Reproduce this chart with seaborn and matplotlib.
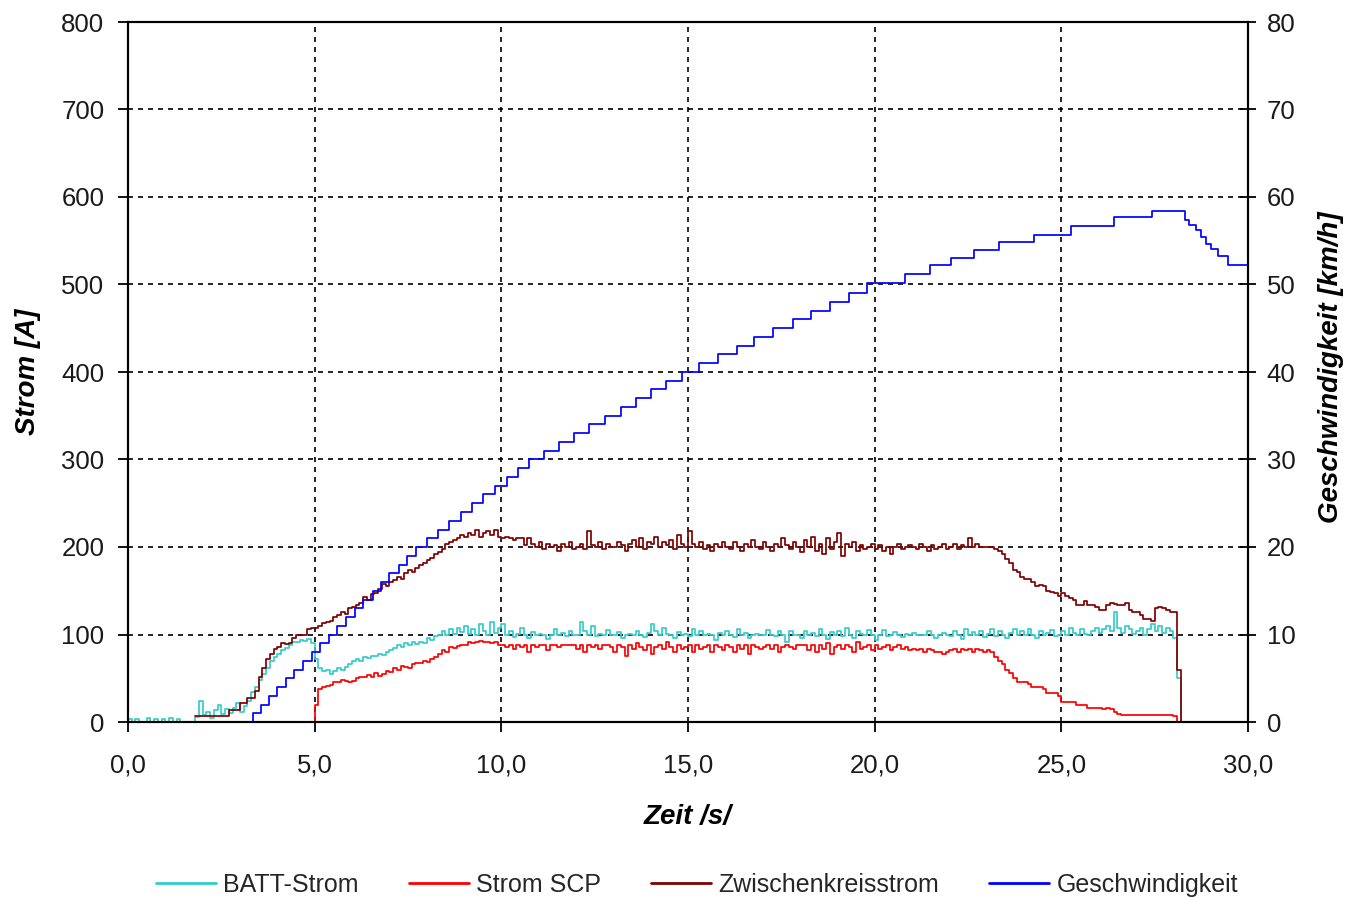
import numpy as np
import pandas as pd
import matplotlib
matplotlib.use("Agg")
import matplotlib.pyplot as plt
import seaborn as sns
from matplotlib.ticker import FuncFormatter, MultipleLocator

# ---------------- data ----------------
DT = 0.1  # sample interval [s]

# BATT-Strom [A], samples start at t = 0.0 s
BATT_T0 = 0.0
batt_strom = [
    3, 0, 4, 0, 0, 5, 0, 3, 0, 4, 0, 5, 0, 3, 0, 0, 0, 0,
    6, 24, 8, 12, 5, 14, 20, 9, 15, 10, 16, 22, 12, 18, 24,
    34, 40, 48, 55, 62, 70, 74, 78, 82, 85, 88, 91, 92, 94, 93, 95, 90,
    72, 62, 58, 60, 55, 58, 62, 60, 63, 66,
    70, 72, 70, 74, 73, 76, 75, 78, 77, 80,
    82, 85, 88, 86, 90, 88, 92, 89, 91, 90,
    96, 94, 98, 100, 104, 99, 106, 101, 108, 103,
    110, 101, 106, 99, 112, 104, 100, 114, 102, 108,
    112, 100, 104, 97, 101, 108, 100, 96, 103, 100,
    101, 99, 95, 100, 106, 100, 102, 98, 104, 100,
    100, 114, 104, 100, 110, 98, 101, 100, 105, 99,
    100, 103, 96, 100, 101, 99, 104, 100, 97, 102,
    112, 104, 100, 108, 101, 100, 96, 103, 100, 101,
    98, 106, 100, 104, 99, 101, 100, 94, 102, 100,
    104, 100, 97, 106, 100, 102, 96, 100, 101, 99,
    100, 105, 100, 98, 104, 100, 92, 104, 100, 100,
    96, 104, 100, 102, 98, 106, 100, 95, 103, 100,
    104, 98, 107, 100, 96, 104, 101, 99, 105, 100,
    94, 100, 105, 98, 100, 103, 100, 97, 101, 100,
    102, 100, 99, 100, 104, 100, 96, 100, 102, 100,
    98, 104, 100, 95, 106, 99, 103, 100, 104, 97,
    101, 106, 98, 104, 100, 96, 102, 106, 100, 104,
    99, 106, 100, 96, 104, 100, 102, 105, 98, 100,
    104, 100, 108, 102, 100, 106, 101, 100, 104, 107,
    102, 106, 110, 104, 126, 108, 102, 110, 106, 101,
    104, 108, 100, 106, 112, 104, 110, 102, 108, 104,
    96, 50, 0,
]

# Strom SCP [A], samples start at t = 4.9 s
SCP_T0 = 4.9
strom_scp = [
    0, 20, 38, 40, 41, 42, 46, 46, 48, 47, 46,
    47, 50, 52, 51, 54, 52, 56, 53, 55, 58,
    57, 62, 60, 64, 63, 62, 66, 68, 67, 70,
    69, 72, 74, 78, 82, 80, 86, 85, 87, 88,
    88, 92, 90, 92, 93, 91, 92, 90, 92, 88,
    88, 86, 88, 84, 88, 86, 88, 80, 88, 86,
    88, 88, 82, 88, 88, 86, 88, 88, 88, 88,
    84, 88, 80, 88, 86, 88, 84, 88, 88, 86,
    80, 88, 86, 76, 88, 84, 90, 86, 82, 88,
    78, 86, 88, 84, 92, 86, 80, 88, 84, 86,
    88, 80, 88, 84, 86, 88, 80, 88, 86, 82,
    88, 86, 80, 88, 84, 88, 78, 88, 86, 84,
    86, 88, 84, 88, 80, 86, 88, 86, 84, 88,
    88, 88, 82, 88, 80, 88, 84, 90, 78, 86,
    88, 84, 88, 86, 80, 92, 84, 86, 88, 82,
    88, 84, 86, 88, 82, 86, 88, 84, 86, 82,
    84, 82, 84, 80, 84, 82, 80, 80, 78, 80,
    82, 84, 80, 84, 82, 84, 80, 84, 82, 80,
    82, 80, 74, 70, 66, 60, 56, 50, 46, 46,
    46, 44, 40, 40, 40, 38, 33, 33, 33, 30,
    23, 23, 23, 23, 19, 20, 19, 16, 16, 16,
    16, 15, 16, 15, 12, 9, 8, 8, 8, 8,
    8, 8, 8, 8, 8, 8, 8, 8, 8, 8,
    7, 0,
]

# Zwischenkreisstrom [A], samples start at t = 1.8 s
ZK_T0 = 1.8
zwischenkreis = [
    7, 7, 7, 7, 7, 7, 7, 7, 7,
    14, 14, 14,
    22, 22, 28, 28, 36, 52, 62, 72, 78, 84,
    86, 90, 89, 90, 96, 99, 100, 99, 106, 108,
    107, 110, 113, 114, 116, 120, 122, 126, 124, 130,
    132, 134, 136, 143, 140, 146, 148, 152, 158, 156,
    160, 162, 166, 164, 170, 174, 172, 176, 180, 182,
    185, 188, 192, 194, 198, 204, 206, 208, 210, 214,
    212, 216, 214, 220, 212, 216, 218, 214, 220, 212,
    210, 212, 210, 208, 210, 210, 202, 210, 204, 200,
    206, 198, 204, 200, 202, 196, 204, 200, 206, 198,
    200, 204, 198, 218, 202, 200, 206, 198, 204, 200,
    200, 206, 202, 196, 204, 208, 200, 210, 198, 206,
    204, 212, 200, 206, 202, 208, 198, 214, 204, 200,
    218, 204, 200, 206, 198, 202, 196, 204, 200, 206,
    200, 198, 206, 200, 196, 204, 200, 208, 200, 198,
    206, 200, 196, 204, 200, 210, 202, 198, 206, 200,
    194, 208, 200, 212, 196, 204, 192, 210, 198, 206,
    216, 190, 204, 200, 206, 196, 202, 198, 200, 204,
    198, 202, 196, 200, 192, 200, 204, 198, 200, 202,
    200, 198, 204, 200, 196, 202, 198, 200, 204, 198,
    200, 204, 198, 202, 200, 210, 200, 204, 200, 200,
    200, 200, 198, 196, 192, 186, 182, 174, 172, 166,
    164, 164, 160, 156, 157, 156, 150, 149, 148, 144,
    147, 144, 142, 140, 134, 134, 138, 134, 134, 132,
    128, 128, 134, 136, 135, 134, 134, 136, 128, 126,
    126, 122, 118, 118, 116, 130, 132, 130, 128, 126,
    126, 60, 0,
]

# Geschwindigkeit [km/h] as step changes (time of change, new value)
speed_t = [
    3.15, 3.35, 3.55, 3.78, 4.0, 4.22, 4.45, 4.68, 4.92, 5.15,
    5.38, 5.6, 5.85, 6.08, 6.3, 6.55, 6.78, 7.0, 7.25, 7.48,
    7.72, 8.0, 8.3, 8.6, 8.92, 9.22, 9.52, 9.83, 10.15, 10.45,
    10.75, 11.15, 11.55, 11.95, 12.35, 12.78, 13.2, 13.6, 14.02, 14.42,
    14.83, 15.3, 15.8, 16.3, 16.78, 17.28, 17.8, 18.3, 18.8, 19.3,
    19.8, 20.81, 21.47, 22.04, 22.65, 23.32, 24.27, 25.25, 26.41, 27.44,
    28.3, 28.42, 28.6, 28.74, 28.87, 29.0, 29.19, 29.46, 30.0,
]
speed_v = [
    0, 1, 2, 3, 4, 5, 6, 7, 8, 9,
    10, 11, 12, 13, 14, 15, 16, 17, 18, 19,
    20, 21, 22, 23, 24, 25, 26, 27, 28, 29,
    30, 31, 32, 33, 34, 35, 36, 37, 38, 39,
    40, 41, 42, 43, 44, 45, 46, 47, 48, 49,
    50.2, 51.2, 52.2, 53.0, 53.9, 54.9, 55.7, 56.7, 57.7, 58.4,
    57.4, 56.8, 56.2, 55.4, 54.6, 54.0, 53.2, 52.2, 52.2,
]

x_ticks = [0, 5, 10, 15, 20, 25, 30]

LABELS = ["BATT-Strom", "Strom SCP", "Zwischenkreisstrom", "Geschwindigkeit"]
COLORS = ["#33CCCC", "#FF0000", "#800000", "#0000FF"]


def series_frame(t0, values):
    t = t0 + DT * np.arange(len(values))
    return pd.DataFrame({"t": np.round(t, 3), "v": values})


df_batt = series_frame(BATT_T0, batt_strom)
df_scp = series_frame(SCP_T0, strom_scp)
df_zk = series_frame(ZK_T0, zwischenkreis)
df_speed = pd.DataFrame({"t": speed_t, "v": speed_v})

# ---------------- plot ----------------
sns.set_theme(style="white")
plt.rcParams["font.family"] = ["Liberation Sans", "DejaVu Sans"]

W, H = 1348, 897
fig = plt.figure(figsize=(W / 100, H / 100), dpi=100)
ax = fig.add_axes([128 / W, 175 / H, 1120 / W, 700 / H])
ax2 = ax.twinx()

lw = 1.25
sns.lineplot(data=df_batt, x="t", y="v", ax=ax, color=COLORS[0], linewidth=lw,
             drawstyle="steps-post", label=LABELS[0], legend=False)
sns.lineplot(data=df_scp, x="t", y="v", ax=ax, color=COLORS[1], linewidth=lw,
             drawstyle="steps-post", label=LABELS[1], legend=False)
sns.lineplot(data=df_zk, x="t", y="v", ax=ax, color=COLORS[2], linewidth=lw,
             drawstyle="steps-post", label=LABELS[2], legend=False)
sns.lineplot(data=df_speed, x="t", y="v", ax=ax2, color=COLORS[3], linewidth=lw,
             drawstyle="steps-post", label=LABELS[3], legend=False)

ax.set_xlim(0, 30)
ax.set_ylim(0, 800)
ax2.set_ylim(0, 80)
ax.set_xticks(x_ticks)
ax.yaxis.set_major_locator(MultipleLocator(100))
ax2.yaxis.set_major_locator(MultipleLocator(10))
ax.xaxis.set_major_formatter(FuncFormatter(lambda v, p: f"{v:.1f}".replace(".", ",")))

ax.grid(True, color="black", linestyle=(0, (3, 3)), linewidth=1.2)
ax.set_axisbelow(True)

for a in (ax, ax2):
    for s in a.spines.values():
        s.set_color("black")
        s.set_linewidth(1.5)
        s.set_visible(True)

tick_col = "#1a1a1a"
ax.tick_params(axis="y", left=True, direction="out", length=7, width=1.3,
               pad=10, labelsize=18.5, labelcolor=tick_col, color="black")
ax.tick_params(axis="x", bottom=True, direction="out", length=7, width=1.3,
               pad=16, labelsize=18.5, labelcolor=tick_col, color="black")
ax2.tick_params(axis="y", right=True, direction="inout", length=11, width=1.3,
                pad=8, labelsize=18.5, labelcolor=tick_col, color="black")
ax2.grid(False)

lab_kw = dict(fontsize=20, fontweight="bold", fontstyle="italic", color="black")
ax.set_xlabel("Zeit /s/", **lab_kw)
ax.set_ylabel("Strom [A]", **lab_kw)
ax2.set_ylabel("Geschwindigkeit [km/h]", **lab_kw)
ax.xaxis.set_label_coords(0.5, -0.117)
ax.yaxis.set_label_coords(-0.078, 0.5)
ax2.yaxis.set_label_coords(1.0625, 0.507)

h1, l1 = ax.get_legend_handles_labels()
h2, l2 = ax2.get_legend_handles_labels()
leg = fig.legend(h1 + h2, l1 + l2, loc="center", bbox_to_anchor=(0.517, 0.0134),
                 ncol=4, frameon=False, fontsize=18, handlelength=2.4,
                 handletextpad=0.3, columnspacing=2.0)
for line in leg.get_lines():
    line.set_linewidth(2.0)

fig.savefig("out.png", dpi=100)
